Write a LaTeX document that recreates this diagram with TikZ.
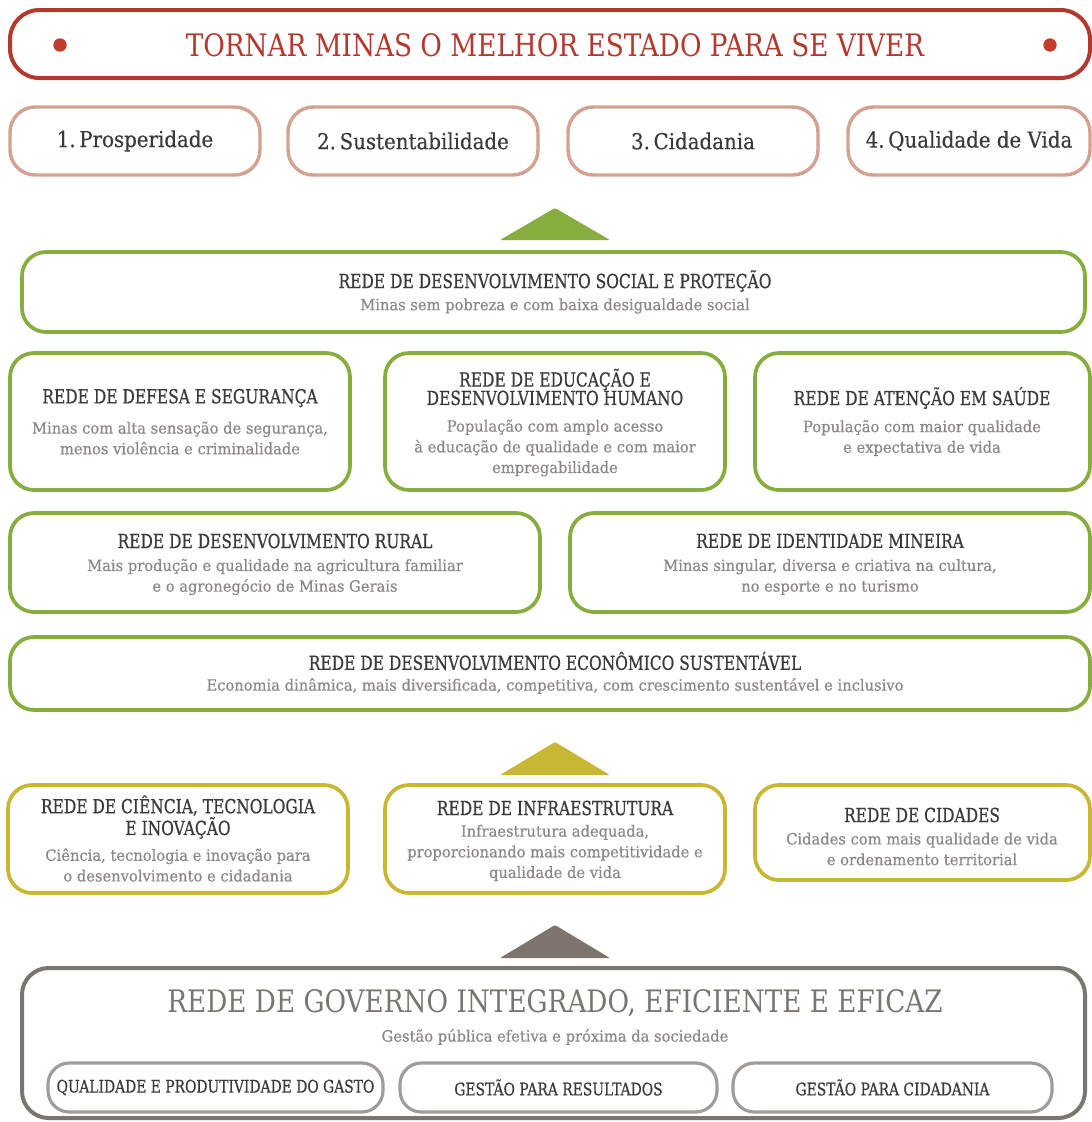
\documentclass[tikz,border=0pt]{standalone}
\usepackage{fontspec}
\setmainfont{DejaVu Serif}
\newfontfamily\hdfont[FakeStretch=0.8,FakeBold=0.6]{DejaVu Serif}
\newfontfamily\bigfont[FakeStretch=0.85]{DejaVu Serif}
\newfontfamily\pfont[FakeStretch=0.9,FakeBold=0.3]{DejaVu Serif}
\newfontfamily\sbfont[FakeStretch=0.95,FakeBold=0.5]{DejaVu Serif}
\usetikzlibrary{fit}
\definecolor{cred}{HTML}{B3392E}
\definecolor{cdot}{HTML}{C43A2C}
\definecolor{csalmon}{HTML}{D4A292}
\definecolor{cgreen}{HTML}{88AD3F}
\definecolor{cyellow}{HTML}{C7B733}
\definecolor{cgraytri}{HTML}{7D756C}
\definecolor{cgov}{HTML}{7A756E}
\definecolor{cgovsub}{HTML}{A19D96}
\definecolor{chead}{HTML}{3C3A38}
\definecolor{csub}{HTML}{8C8884}
\tikzset{
  frame/.style={draw, inner sep=0pt, fill=white},
  topbox/.style={frame, draw=cred, line width=3pt, rounded corners=22pt},
  pillar/.style={frame, draw=csalmon, line width=2.6pt, rounded corners=19pt},
  gbox/.style={frame, draw=cgreen, line width=2.8pt, rounded corners=18pt},
  ybox/.style={frame, draw=cyellow, line width=2.8pt, rounded corners=18pt},
  govbox/.style={frame, draw=cgov, line width=3pt, rounded corners=20pt},
  govsub/.style={frame, draw=cgovsub, line width=2.4pt, rounded corners=16pt},
  head/.style={inner sep=0pt, text=chead, align=center, font=\hdfont\fontsize{14.5}{13.8}\selectfont},
  gsubtext/.style={inner sep=0pt, text=chead, font=\hdfont\fontsize{13}{13}\selectfont},
  sub/.style={inner sep=0pt, text=csub, align=center, font=\sbfont\fontsize{11.6}{15.5}\selectfont},
  pilltext/.style={inner sep=0pt, text=chead, font=\pfont\fontsize{16.5}{16.5}\selectfont},
  bigtitle/.style={inner sep=0pt, font=\bigfont\fontsize{23.2}{23.2}\selectfont},
  dot/.style={circle, fill=cdot, inner sep=0pt, minimum size=10pt},
}
\begin{document}
\begin{tikzpicture}[x=0.75pt,y=-0.75pt]
\useasboundingbox[fill=white] (0,0) rectangle (1092,1122);

% top
\node[topbox, fit={(10,10)(1090,78)}] (top) {};
\node[bigtitle, text=cred] (title) at (555,45) {TORNAR MINAS O MELHOR ESTADO PARA SE VIVER};
\node[dot] (dotl) at (60,45) {};
\node[dot] (dotr) at (1050,45) {};

% pillars
\node[pillar, fit={(10,107)(260,175)}] (p1) {};
\node[pillar, fit={(288,107)(538,175)}] (p2) {};
\node[pillar, fit={(568,107)(818,175)}] (p3) {};
\node[pillar, fit={(848,107)(1090,175)}] (p4) {};
\node[pilltext] (p1t) at (p1.center) {1.\,Prosperidade};
\node[pilltext] (p2t) at (p2.center) {2.\,Sustentabilidade};
\node[pilltext] (p3t) at (p3.center) {3.\,Cidadania};
\node[pilltext] (p4t) at (p4.center) {4.\,Qualidade de Vida};

% green triangle
\fill[cgreen, rounded corners=1pt] (555,208) -- (610,240) -- (500,240) -- cycle;

% social
\node[gbox, fit={(22,252)(1085,332)}] (social) {};
\node[head] (socialh) at (555,281) {REDE DE DESENVOLVIMENTO SOCIAL E PROTEÇÃO};
\node[sub] (socials) at (555,306) {Minas sem pobreza e com baixa desigualdade social};

% row 2
\node[gbox, fit={(10,353)(350,490)}] (defesa) {};
\node[head] (defesah) at (180,398) {REDE DE DEFESA E SEGURANÇA};
\node[sub] (defesas) at (180,438) {Minas com alta sensação de segurança,\\menos violência e criminalidade};

\node[gbox, fit={(385,353)(725,490)}] (educ) {};
\node[head] (educh) at (555,387) {REDE DE EDUCAÇÃO E\\DESENVOLVIMENTO HUMANO};
\node[sub] (educs) at (555,448) {População com amplo acesso\\à educação de qualidade e com maior\\empregabilidade};

\node[gbox, fit={(755,353)(1090,490)}] (saude) {};
\node[head] (saudeh) at (922,398) {REDE DE ATENÇÃO EM SAÚDE};
\node[sub] (saudes) at (922,438) {População com maior qualidade\\e expectativa de vida};

% row 3
\node[gbox, fit={(10,513)(540,612)}] (rural) {};
\node[head] (ruralh) at (275,541) {REDE DE DESENVOLVIMENTO RURAL};
\node[sub] (rurals) at (275,577) {Mais produção e qualidade na agricultura familiar\\e o agronegócio de Minas Gerais};

\node[gbox, fit={(570,513)(1090,612)}] (ident) {};
\node[head] (identh) at (830,541) {REDE DE IDENTIDADE MINEIRA};
\node[sub] (idents) at (830,577) {Minas singular, diversa e criativa na cultura,\\no esporte e no turismo};

% econ
\node[gbox, fit={(10,637)(1090,710)}] (econ) {};
\node[head] (econh) at (555,661) {REDE DE DESENVOLVIMENTO ECONÔMICO SUSTENTÁVEL};
\node[sub] (econs) at (555,686) {Economia dinâmica, mais diversificada, competitiva, com crescimento sustentável e inclusivo};

% yellow triangle
\fill[cyellow, rounded corners=1pt] (555,742) -- (610,775) -- (500,775) -- cycle;

% yellow row
\node[ybox, fit={(8,785)(348,893)}] (cienc) {};
\node[head] (ciench) at (178,817) {REDE DE CIÊNCIA, TECNOLOGIA\\E INOVAÇÃO};
\node[sub] (ciencs) at (178,865) {Ciência, tecnologia e inovação para\\o desenvolvimento e cidadania};

\node[ybox, fit={(385,785)(725,893)}] (infra) {};
\node[head] (infrah) at (555,808) {REDE DE INFRAESTRUTURA};
\node[sub] (infras) at (555,853) {Infraestrutura adequada,\\proporcionando mais competitividade e\\qualidade de vida};

\node[ybox, fit={(755,785)(1090,880)}] (cidades) {};
\node[head] (cidadesh) at (922,815) {REDE DE CIDADES};
\node[sub] (cidadess) at (922,849) {Cidades com mais qualidade de vida\\e ordenamento territorial};

% gray triangle
\fill[cgraytri, rounded corners=1pt] (555,925) -- (610,958) -- (500,958) -- cycle;

% governo
\node[govbox, fit={(22,968)(1085,1118)}] (gov) {};
\node[bigtitle, text=cgov] (govh) at (555,1003) {REDE DE GOVERNO INTEGRADO, EFICIENTE E EFICAZ};
\node[sub] (govs) at (555,1037) {Gestão pública efetiva e próxima da sociedade};

\node[govsub, fit={(48,1063)(383,1112)}] (g1) {};
\node[govsub, fit={(400,1063)(717,1112)}] (g2) {};
\node[govsub, fit={(733,1063)(1052,1112)}] (g3) {};
\node[gsubtext] (g1t) at (g1.center) {QUALIDADE E PRODUTIVIDADE DO GASTO};
\node[gsubtext] (g2t) at (g2.center) {GESTÃO PARA RESULTADOS};
\node[gsubtext] (g3t) at (g3.center) {GESTÃO PARA CIDADANIA};
\end{tikzpicture}
\end{document}
